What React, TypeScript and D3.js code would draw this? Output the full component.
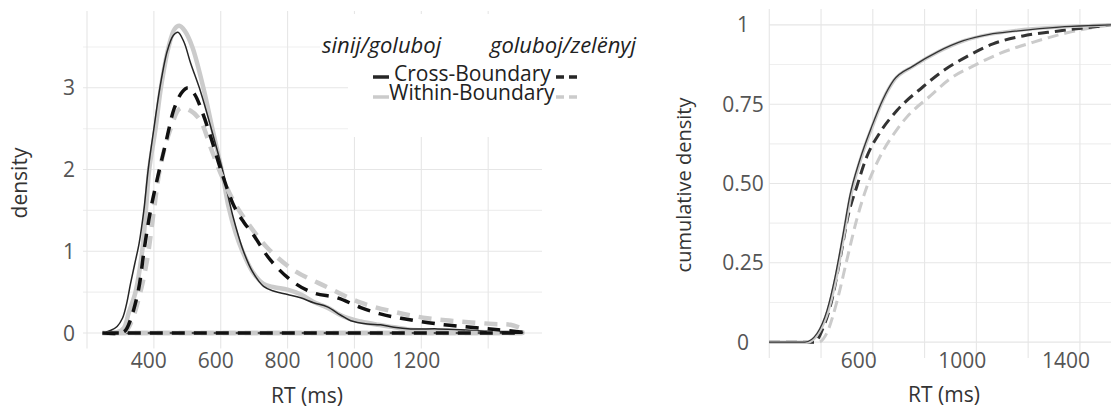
import React, { useEffect, useRef } from 'react'
import * as d3 from 'd3'

// density of RT (ms)
const sgCrossDensity = [
  [246, 0], [270, 0.03], [290, 0.08], [306, 0.18], [318, 0.35], [330, 0.6], [343, 0.85],
  [356, 1.1], [370, 1.5], [383, 2.0], [400, 2.5], [418, 3.0], [440, 3.45], [458, 3.64],
  [472, 3.68], [490, 3.56], [510, 3.3], [540, 2.95], [575, 2.45], [608, 1.95], [625, 1.62],
  [645, 1.3], [668, 1.0], [695, 0.75], [728, 0.57], [760, 0.51], [800, 0.47], [839, 0.43],
  [878, 0.37], [919, 0.32], [958, 0.22], [989, 0.15], [1039, 0.11], [1078, 0.1], [1118, 0.07],
  [1168, 0.05], [1249, 0.05], [1318, 0.04], [1398, 0.02], [1503, 0.01]
]
const sgWithinDensity = [
  [246, 0], [290, 0.01], [310, 0.06], [325, 0.25], [345, 0.5], [365, 1.0], [378, 1.6],
  [386, 2.0], [405, 2.5], [421, 3.0], [444, 3.5], [462, 3.72], [476, 3.76], [492, 3.7],
  [515, 3.5], [548, 3.0], [575, 2.5], [605, 1.95], [623, 1.55], [645, 1.22], [665, 1.0],
  [695, 0.75], [728, 0.6], [760, 0.56], [800, 0.53], [840, 0.47], [878, 0.38], [919, 0.31],
  [968, 0.2], [1019, 0.14], [1070, 0.1], [1118, 0.07], [1168, 0.04], [1218, 0.03],
  [1300, 0.02], [1400, 0.01], [1503, 0.01]
]
const gzCrossDensity = [
  [246, 0], [300, 0], [315, 0.03], [330, 0.16], [354, 0.53], [372, 1.05], [390, 1.5],
  [411, 1.9], [437, 2.35], [461, 2.75], [485, 2.95], [503, 3.0], [522, 2.92], [545, 2.7],
  [570, 2.4], [600, 2.0], [640, 1.55], [670, 1.35], [698, 1.2], [749, 0.89], [818, 0.62],
  [878, 0.49], [949, 0.43], [1019, 0.31], [1080, 0.23], [1139, 0.18], [1249, 0.11],
  [1348, 0.07], [1430, 0.04], [1503, 0.01]
]
const gzWithinDensity = [
  [246, 0], [305, 0], [318, 0.03], [335, 0.16], [359, 0.49], [380, 0.9], [400, 1.5],
  [420, 2.05], [450, 2.5], [479, 2.75], [510, 2.72], [539, 2.6], [569, 2.28], [599, 1.96],
  [640, 1.6], [680, 1.35], [740, 1.04], [818, 0.77], [919, 0.56], [1019, 0.37], [1118, 0.26],
  [1218, 0.18], [1318, 0.14], [1416, 0.11], [1467, 0.1], [1503, 0.05]
]

// cumulative density, right panel
const sgCrossEcdf = [
  [199, 0], [338, 0], [385, 0.028], [423, 0.1], [454, 0.205], [485, 0.34], [511, 0.46],
  [550, 0.575], [596, 0.68], [639, 0.765], [680, 0.825], [755, 0.87], [850, 0.915],
  [950, 0.95], [1050, 0.97], [1150, 0.98], [1320, 0.993], [1450, 0.998], [1520, 1]
]
const sgWithinEcdf = [
  [199, 0], [345, 0], [390, 0.03], [427, 0.1], [457, 0.2], [488, 0.34], [514, 0.46],
  [552, 0.575], [598, 0.68], [640, 0.765], [682, 0.825], [757, 0.87], [852, 0.915],
  [952, 0.95], [1050, 0.97], [1150, 0.982], [1320, 0.993], [1450, 0.998], [1520, 1]
]
const gzCrossEcdf = [
  [199, 0], [375, 0], [408, 0.045], [441, 0.13], [473, 0.26], [505, 0.4], [538, 0.49],
  [577, 0.585], [627, 0.66], [693, 0.73], [794, 0.805], [871, 0.855], [963, 0.9],
  [1064, 0.94], [1180, 0.965], [1311, 0.98], [1412, 0.99], [1520, 1]
]
const gzWithinEcdf = [
  [199, 0], [390, 0], [423, 0.03], [462, 0.13], [500, 0.26], [539, 0.39], [577, 0.49],
  [628, 0.585], [693, 0.67], [732, 0.71], [822, 0.776], [898, 0.83], [987, 0.87],
  [1091, 0.91], [1218, 0.945], [1350, 0.975], [1478, 0.995], [1520, 1]
]

const leftXTicks = [400, 600, 800, 1000, 1200]
const leftXGrid = [200, 400, 600, 800, 1000, 1200, 1400]
const leftYTicks = [0, 1, 2, 3]
const leftYGrid = [0, 0.5, 1, 1.5, 2, 2.5, 3, 3.5]
const rightXTicks = [600, 1000, 1400]
const rightXGrid = [200, 400, 600, 800, 1000, 1200, 1400]
const rightYTicks = [0, 0.25, 0.5, 0.75, 1]
const rightYLabels = ['0', '0.25', '0.50', '0.75', '1']
const rightYGrid = [0, 0.125, 0.25, 0.375, 0.5, 0.625, 0.75, 0.875, 1]

const groupTitles = ['sinij/goluboj', 'goluboj/zelënyj']
const boundaryLabels = ['Cross-Boundary', 'Within-Boundary']

const FONT = '"Open Sans", "Noto Sans", sans-serif'
const BLACK = '#262626'
const GRAY = '#cbcbcb'

export default function App() {
  const ref = useRef<SVGSVGElement | null>(null)

  useEffect(() => {
    const svg = d3.select(ref.current)
    svg.selectAll('*').remove()

    // ---------- left panel: density ----------
    const xL = d3.scaleLinear().domain([188, 1561]).range([83, 542])
    const yL = d3.scaleLinear().domain([-0.19, 3.94]).range([348.5, 11])
    const gL = svg.append('g')

    gL.selectAll('line.hgrid').data(leftYGrid).enter().append('line')
      .attr('x1', xL.range()[0]).attr('x2', xL.range()[1])
      .attr('y1', d => yL(d)).attr('y2', d => yL(d))
      .attr('stroke', d => (d % 1 === 0 ? '#e6e6e6' : '#efefef')).attr('stroke-width', 1.1)
    gL.selectAll('line.vgrid').data(leftXGrid).enter().append('line')
      .attr('x1', d => xL(d)).attr('x2', d => xL(d))
      .attr('y1', yL.range()[1]).attr('y2', yL.range()[0])
      .attr('stroke', '#e6e6e6').attr('stroke-width', 1.1)

    const densLine = d3.line<number[]>()
      .x(d => xL(d[0]))
      .y(d => yL(d[1]))
      .curve(d3.curveCatmullRom.alpha(0.5))

    // geom_density outline runs back along the baseline
    const closed = (data: number[][]) => {
      const first = data[0][0]
      const last = data[data.length - 1][0]
      return densLine(data) + `L${xL(last)},${yL(0)}L${xL(first)},${yL(0)}`
    }

    const densSeries = [
      { data: sgWithinDensity, color: GRAY, width: 4.5, dash: null },
      { data: sgCrossDensity, color: BLACK, width: 1.5, dash: null },
      { data: gzWithinDensity, color: GRAY, width: 4.5, dash: '13 9' },
      { data: gzCrossDensity, color: '#111', width: 3.5, dash: '13 9' }
    ]
    densSeries.forEach(s => {
      gL.append('path')
        .attr('d', closed(s.data))
        .attr('fill', 'none')
        .attr('stroke', s.color)
        .attr('stroke-width', s.width)
        .attr('stroke-linejoin', 'round')
        .attr('stroke-dasharray', s.dash)
    })

    gL.selectAll('text.xt').data(leftXTicks).enter().append('text')
      .attr('x', d => xL(d) - 5).attr('y', 368)
      .attr('text-anchor', 'middle')
      .attr('font-family', FONT).attr('font-size', 21).attr('fill', '#555')
      .text(d => String(d))
    gL.selectAll('text.yt').data(leftYTicks).enter().append('text')
      .attr('x', 75).attr('y', d => yL(d)).attr('dy', '0.36em')
      .attr('text-anchor', 'end')
      .attr('font-family', FONT).attr('font-size', 21).attr('fill', '#555')
      .text(d => String(d))

    gL.append('text')
      .attr('x', 307).attr('y', 403)
      .attr('text-anchor', 'middle')
      .attr('font-family', FONT).attr('font-size', 21).attr('fill', '#333')
      .text('RT (ms)')
    gL.append('text')
      .attr('transform', 'translate(27, 183) rotate(-90)')
      .attr('text-anchor', 'middle')
      .attr('font-family', FONT).attr('font-size', 21).attr('fill', '#333')
      .text('density')

    // legend (white box over the grid)
    const lg = svg.append('g')
    lg.append('rect').attr('x', 348).attr('y', 14).attr('width', 300).attr('height', 123).attr('fill', '#fff')
    lg.append('rect').attr('x', 320).attr('y', 38).attr('width', 30).attr('height', 20).attr('fill', '#fff')
    const titleX = [322, 490]
    groupTitles.forEach((t, i) => {
      lg.append('text')
        .attr('x', titleX[i]).attr('y', 53)
        .attr('font-family', FONT).attr('font-style', 'italic').attr('font-size', 22).attr('fill', '#222')
        .text(t)
    })

    const keyColors = [BLACK, GRAY]
    const labelX = [394, 389]
    boundaryLabels.forEach((lab, i) => {
      const ky = 77 + i * 20
      lg.append('line')
        .attr('x1', 373).attr('x2', 389).attr('y1', ky).attr('y2', ky)
        .attr('stroke', keyColors[i]).attr('stroke-width', 3.5)
      lg.append('line')
        .attr('x1', 556).attr('x2', 582).attr('y1', ky).attr('y2', ky)
        .attr('stroke', keyColors[i]).attr('stroke-width', 3.5)
        .attr('stroke-dasharray', '8 5')
      lg.append('text')
        .attr('x', labelX[i]).attr('y', 81 + i * 19)
        .attr('font-family', FONT).attr('font-size', 21).attr('fill', '#222')
        .text(lab)
    })

    // ---------- right panel: cumulative density ----------
    const xR = d3.scaleLinear().domain([199, 1520]).range([769, 1111])
    const yR = d3.scaleLinear().domain([-0.05, 1.05]).range([358, 9])
    const gR = svg.append('g')

    gR.selectAll('line.hgrid').data(rightYGrid).enter().append('line')
      .attr('x1', xR.range()[0]).attr('x2', xR.range()[1])
      .attr('y1', d => yR(d)).attr('y2', d => yR(d))
      .attr('stroke', (d, i) => (i % 2 === 0 ? '#e6e6e6' : '#efefef')).attr('stroke-width', 1.1)
    gR.selectAll('line.vgrid').data(rightXGrid).enter().append('line')
      .attr('x1', d => xR(d)).attr('x2', d => xR(d))
      .attr('y1', yR.range()[1]).attr('y2', yR.range()[0])
      .attr('stroke', '#e6e6e6').attr('stroke-width', 1.1)

    const ecdfLine = d3.line<number[]>()
      .x(d => xR(d[0]))
      .y(d => yR(d[1]))
      .curve(d3.curveMonotoneX)

    const ecdfSeries = [
      { data: gzWithinEcdf, color: GRAY, width: 3, dash: '11 6' },
      { data: gzCrossEcdf, color: '#333', width: 3, dash: '11 6' },
      { data: sgWithinEcdf, color: GRAY, width: 3.5, dash: null },
      { data: sgCrossEcdf, color: '#333', width: 1.3, dash: null }
    ]
    ecdfSeries.forEach(s => {
      gR.append('path')
        .attr('d', ecdfLine(s.data))
        .attr('fill', 'none')
        .attr('stroke', s.color)
        .attr('stroke-width', s.width)
        .attr('stroke-dasharray', s.dash)
    })

    gR.selectAll('text.xt').data(rightXTicks).enter().append('text')
      .attr('x', d => xR(d) - 14).attr('y', 368)
      .attr('text-anchor', 'middle')
      .attr('font-family', FONT).attr('font-size', 21).attr('fill', '#555')
      .text(d => String(d))
    gR.selectAll('text.yt').data(rightYTicks).enter().append('text')
      .attr('x', 743).attr('y', d => yR(d)).attr('dy', '0.36em')
      .attr('text-anchor', 'middle')
      .attr('font-family', FONT).attr('font-size', 21).attr('fill', '#555')
      .text((d, i) => rightYLabels[i])

    gR.append('text')
      .attr('x', 944).attr('y', 402)
      .attr('text-anchor', 'middle')
      .attr('font-family', FONT).attr('font-size', 21).attr('fill', '#333')
      .text('RT (ms)')
    gR.append('text')
      .attr('transform', 'translate(691, 185) rotate(-90)')
      .attr('text-anchor', 'middle')
      .attr('font-family', FONT).attr('font-size', 20).attr('fill', '#333')
      .text('cumulative density')
  }, [])

  return (
    <svg ref={ref} width={1111} height={410}
      style={{ position: 'absolute', left: 0, top: 0, background: '#fff' }} />
  )
}
